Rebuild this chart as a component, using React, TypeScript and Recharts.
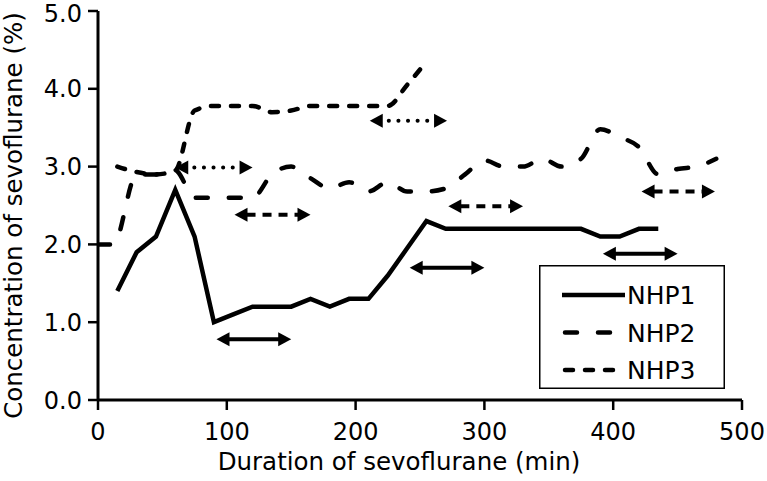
import React from 'react';
import { LineChart, Line, XAxis, YAxis, ReferenceLine, Legend } from 'recharts';

const FONT = '"DejaVu Sans", sans-serif';

const xTicks = [0, 100, 200, 300, 400, 500];
const yTicks = [0, 1, 2, 3, 4, 5];

const nhp1Times = [15, 30, 45, 60, 75, 90, 105, 120, 135, 150, 165, 180, 195, 210, 225, 240, 255, 270, 285, 300, 315, 330, 345, 360, 375, 390, 405, 420, 435];
const nhp1Values = [1.4, 1.9, 2.1, 2.7, 2.1, 1.0, 1.1, 1.2, 1.2, 1.2, 1.3, 1.2, 1.3, 1.3, 1.6, 1.95, 2.3, 2.2, 2.2, 2.2, 2.2, 2.2, 2.2, 2.2, 2.2, 2.1, 2.1, 2.2, 2.2];

const nhp2Times = [0, 12, 30, 45, 60, 75, 90, 105, 120, 135, 150, 165, 180, 195, 210, 225, 240, 255, 270, 285, 300, 315, 330, 345, 360, 375, 390, 405, 420, 435, 450, 465, 480];
const nhp2Values = [2.0, 2.0, 2.9, 2.9, 2.95, 2.6, 2.6, 2.6, 2.6, 2.9, 3.0, 2.85, 2.72, 2.8, 2.68, 2.8, 2.68, 2.68, 2.72, 2.9, 3.08, 3.0, 3.0, 3.1, 3.0, 3.1, 3.48, 3.38, 3.25, 2.9, 2.97, 3.0, 3.1];

const nhp3Times = [15, 30, 45, 60, 75, 90, 105, 120, 135, 150, 165, 180, 195, 210, 225, 240, 255];
const nhp3Values = [3.0, 2.93, 2.9, 2.95, 3.72, 3.78, 3.78, 3.78, 3.7, 3.72, 3.78, 3.78, 3.78, 3.78, 3.78, 4.05, 4.35];

const seriesNames = ['NHP1', 'NHP2', 'NHP3'];
const seriesDash = ['', '12 21', '8 12'];
const seriesCurve = ['linear', 'monotone', 'monotone'];

// annotation arrows (minutes from, minutes to, concentration level, style)
const arrowStarts = [92, 242, 392, 106, 272, 422, 60, 211];
const arrowEnds = [150, 300, 450, 165, 330, 479, 120, 271];
const arrowLevels = [0.78, 1.7, 1.88, 2.38, 2.49, 2.68, 2.99, 3.59];
const arrowKinds = ['solid', 'solid', 'solid', 'dashed', 'dashed', 'dashed', 'dotted', 'dotted'];

const zip = (ts: number[], vs: number[]) => ts.map((t, i) => ({ t, v: vs[i] }));
const seriesData = [zip(nhp1Times, nhp1Values), zip(nhp2Times, nhp2Values), zip(nhp3Times, nhp3Values)];

const arrowDash: Record<string, string | undefined> = {
  solid: undefined,
  dashed: '9 7',
  dotted: '0.1 9.5',
};

const makeArrow = (kind: string) => (p: any) => {
  const { x1, y1, x2, y2 } = p;
  const L = 13;
  const H = 7;
  const left = Math.min(x1, x2);
  const right = Math.max(x1, x2);
  const y = y1;
  const dash = arrowDash[kind];
  const inset = kind === 'dotted' ? L + 6 : L - 1;
  return (
    <g>
      <line
        x1={left + inset}
        y1={y}
        x2={right - inset}
        y2={y2}
        stroke="#000"
        strokeWidth={4}
        strokeDasharray={dash}
        strokeLinecap={kind === 'dotted' ? 'round' : 'butt'}
      />
      <polygon points={`${left},${y} ${left + L},${y - H} ${left + L},${y + H}`} fill="#000" />
      <polygon points={`${right},${y} ${right - L},${y - H} ${right - L},${y + H}`} fill="#000" />
    </g>
  );
};

const renderXLabel = (props: any) => {
  const vb = props.viewBox || {};
  const x = vb.x + vb.width / 2 - 21;
  const y = vb.y + 70;
  return (
    <text x={x} y={y} textAnchor="middle" fontFamily={FONT} fontSize={24.5} fill="#000">
      Duration of sevoflurane (min)
    </text>
  );
};

const renderYLabel = (props: any) => {
  const vb = props.viewBox || {};
  const x = vb.x + 22;
  const y = vb.y + vb.height / 2 + 10;
  return (
    <text x={x} y={y} textAnchor="middle" fontFamily={FONT} fontSize={24.5} fill="#000" transform={`rotate(-90, ${x}, ${y})`}>
      Concentration of sevoflurane (%)
    </text>
  );
};

const renderLegend = () => (
  <svg width={186} height={124} style={{ display: 'block' }}>
    <rect x={0.75} y={0.75} width={184.5} height={122.5} fill="#fff" stroke="#000" strokeWidth={1.5} />
    {seriesNames.map((name, i) => {
      const cy = 30 + i * 37.5;
      return (
        <g key={name}>
          <line
            x1={i === 0 ? 23 : 26}
            y1={cy}
            x2={i === 0 ? 86 : 84}
            y2={cy}
            stroke="#000"
            strokeWidth={4.5}
            strokeDasharray={seriesDash[i] || undefined}
            strokeLinecap={i === 0 ? 'butt' : 'round'}
          />
          <text x={88} y={cy + 9} fontFamily={FONT} fontSize={25} fill="#000">
            {name}
          </text>
        </g>
      );
    })}
  </svg>
);

export default function App() {
  return (
    <div style={{ position: 'absolute', left: 0, top: 0, background: '#fff' }}>
      <LineChart width={767} height={481} margin={{ top: 11, right: 25, bottom: 0, left: 0 }}>
        <XAxis
          type="number"
          dataKey="t"
          domain={[0, 500]}
          ticks={xTicks}
          allowDataOverflow
          axisLine={{ stroke: '#000', strokeWidth: 3 }}
          tickLine={{ stroke: '#000', strokeWidth: 2.5 }}
          tickSize={10}
          tickMargin={13}
          height={81}
          tick={{ fontFamily: FONT, fontSize: 24, fill: '#000' }}
          label={renderXLabel}
        />
        <YAxis
          type="number"
          domain={[0, 5]}
          ticks={yTicks}
          allowDataOverflow
          width={98}
          axisLine={{ stroke: '#000', strokeWidth: 3 }}
          tickLine={{ stroke: '#000', strokeWidth: 2.5 }}
          tickSize={10}
          tickMargin={6}
          tickFormatter={(v: number) => v.toFixed(1)}
          tick={{ fontFamily: FONT, fontSize: 24, fill: '#000' }}
          label={renderYLabel}
        />
        {seriesNames.map((name, i) => (
          <Line
            key={name}
            name={name}
            data={seriesData[i]}
            dataKey="v"
            type={seriesCurve[i] as any}
            stroke="#000"
            strokeWidth={4.5}
            strokeDasharray={seriesDash[i] || undefined}
            strokeLinecap={i === 0 ? 'butt' : 'round'}
            dot={false}
            activeDot={false}
            isAnimationActive={false}
          />
        ))}
        {arrowStarts.map((s, i) => (
          <ReferenceLine
            key={`arrow-${i}`}
            segment={[
              { x: s, y: arrowLevels[i] },
              { x: arrowEnds[i], y: arrowLevels[i] },
            ]}
            shape={makeArrow(arrowKinds[i])}
          />
        ))}
        <Legend
          content={renderLegend}
          layout="horizontal"
          verticalAlign="middle"
          align="center"
          wrapperStyle={{ left: 539, top: 265, width: 186, height: 124 }}
        />
      </LineChart>
    </div>
  );
}
